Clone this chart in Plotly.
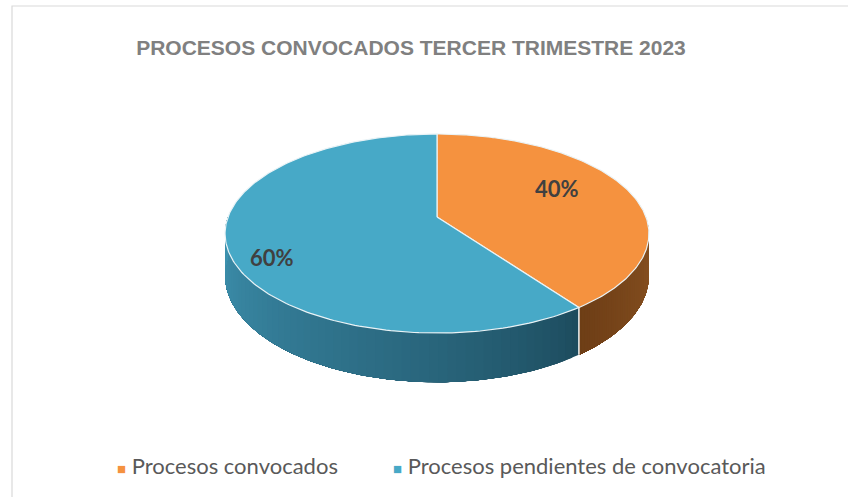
import numpy as np
import plotly.graph_objects as go

# ---- data ----
categories = ["Procesos convocados", "Procesos pendientes de convocatoria"]
values = [40, 60]
top_colors = ["#F5923F", "#47A9C7"]
side_dark = ["#6E3E16", "#1C4A5C"]
side_light = ["#8E5624", "#3E92B0"]
title_text = "PROCESOS CONVOCADOS TERCER TRIMESTRE 2023"

W, H = 848, 497
# projection parameters (pixels)
CX, CY = 437, 217
R, RY, K, DEPTH = 209, 96.8, 0.166, 41


def proj(theta, drop=0.0):
    # theta measured clockwise from the back (top) of the pie, radians
    d = np.cos(theta)
    w = 1 + K * d
    x = CX + R * np.sin(theta) / w
    y = CY - RY * d / w + drop / w
    return x, y


def hexmix(c1, c2, t):
    a = [int(c1[i:i + 2], 16) for i in (1, 3, 5)]
    b = [int(c2[i:i + 2], 16) for i in (1, 3, 5)]
    m = [round(a[j] + (b[j] - a[j]) * t) for j in range(3)]
    return "#%02X%02X%02X" % tuple(m)


fig = go.Figure()

total = sum(values)
starts = np.cumsum([0] + values[:-1]) / total * 2 * np.pi
ends = np.cumsum(values) / total * 2 * np.pi

# side walls (only the front half, angles between 90 and 270 deg)
for i in range(len(values)):
    a0, a1 = max(starts[i], np.pi / 2), min(ends[i], 3 * np.pi / 2)
    if a1 <= a0:
        continue
    n = 60
    edges = np.linspace(a0, a1, n + 1)
    for j in range(n):
        t0, t1 = edges[j], edges[j + 1]
        # each band runs to the end of the slice; later bands cover the rest -> no seams
        ts = np.linspace(t0, a1, max(4, int((a1 - t0) * 60)))
        xt, yt = proj(ts)
        xb, yb = proj(ts[::-1], DEPTH)
        mid = (t0 + t1) / 2
        if i == 0:
            col = hexmix(side_light[0], side_dark[0], min(1, (mid - np.pi / 2) / (ends[0] - np.pi / 2)))
        else:
            col = hexmix(side_dark[1], side_light[1], ((mid - ends[0]) / (3 * np.pi / 2 - ends[0])) ** 0.8)
        fig.add_trace(go.Scatter(
            x=np.concatenate([xt, xb]), y=np.concatenate([yt, yb]),
            fill="toself", fillcolor=col, mode="lines",
            line=dict(width=0, color=col), hoverinfo="skip", showlegend=False))

# white edge on the side at the slice boundary
for b in list(ends[:-1]):
    if np.pi / 2 < b < 3 * np.pi / 2:
        x0, y0 = proj(b)
        x1, y1 = proj(b, DEPTH)
        fig.add_trace(go.Scatter(x=[x0, x1], y=[y0, y1], mode="lines",
                                 line=dict(color="#F2F2F2", width=1.5),
                                 hoverinfo="skip", showlegend=False))

# top faces
for i in range(len(values)):
    ts = np.linspace(starts[i], ends[i], 200)
    xs, ys = proj(ts)
    xs = np.concatenate([[CX], xs, [CX]])
    ys = np.concatenate([[CY], ys, [CY]])
    fig.add_trace(go.Scatter(
        x=xs, y=ys, fill="toself", fillcolor=top_colors[i], mode="lines",
        line=dict(color="#EAF3F6", width=1.2),
        name=categories[i], hoverinfo="name", showlegend=False))

# percent labels
label_pos = [(557, 188), (272, 257)]
for i in range(len(values)):
    fig.add_annotation(x=label_pos[i][0], y=label_pos[i][1],
                       text="<b>%d%%</b>" % round(100 * values[i] / total),
                       showarrow=False, font=dict(family="Lato", size=22, color="#404040"))

# legend entries
legend_x = [115, 391]
for i in range(len(values)):
    fig.add_annotation(
        x=legend_x[i], y=465, xanchor="left", yanchor="middle", showarrow=False,
        text="<span style='color:%s;font-size:15px'>■</span> %s" % (top_colors[i], categories[i]),
        font=dict(family="Lato", size=22, color="#595959"))

fig.add_shape(type="rect", x0=12, y0=6, x1=W + 10, y1=H + 10,
              line=dict(color="#D9D9D9", width=1.2), layer="below")

fig.update_layout(
    width=W, height=H, margin=dict(l=0, r=0, t=0, b=0),
    paper_bgcolor="white", plot_bgcolor="white",
    xaxis=dict(range=[0, W], visible=False, fixedrange=True),
    yaxis=dict(range=[H, 0], visible=False, fixedrange=True),
    title=dict(text="<b>" + title_text + "</b>", x=411 / W, xanchor="center",
               y=1 - 48 / H, yanchor="middle",
               font=dict(family="Liberation Sans", size=21, color="#808080")),
    showlegend=False,
)

fig.write_html("out.html", config={"displayModeBar": False},
               post_script="document.body.style.margin='0';document.body.style.overflow='hidden';")
